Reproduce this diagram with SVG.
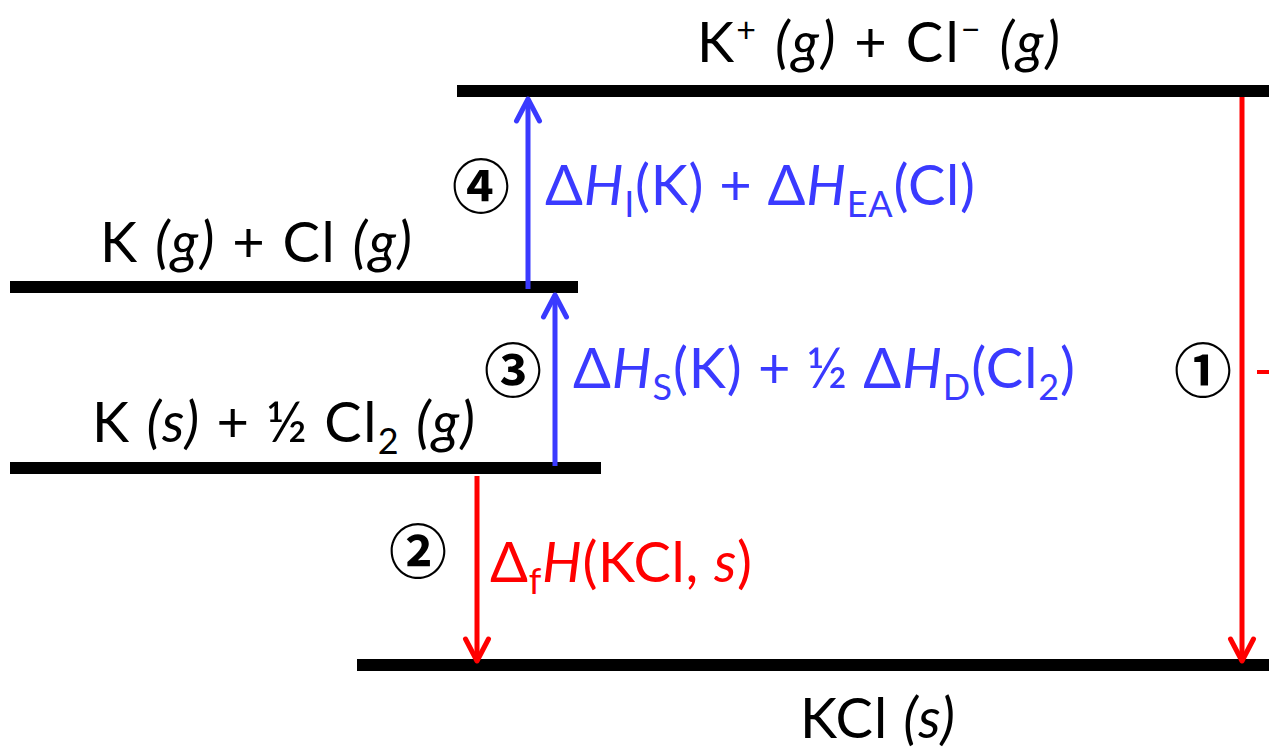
<svg xmlns="http://www.w3.org/2000/svg" width="1269" height="749" viewBox="0 0 1269 749">
<style>
  text { font-family: Lato, "Open Sans", "Noto Sans", sans-serif; font-size: 56px; fill: #000; }
  .it { font-style: italic; }
  .sub { font-size: 36px; }
  .sup { font-size: 34px; }
  .blue { fill: #3a3aff; }
  .red { fill: #ff0000; }
  .num { font-family: "Noto Sans CJK JP", "DejaVu Sans", sans-serif; font-size: 58px; font-weight: bold; text-anchor: middle; }
  .level { stroke: #000; stroke-width: 12; fill: none; }
  .ab { stroke: #3a3aff; stroke-width: 5; fill: none; }
  .ar { stroke: #ff0000; stroke-width: 5; fill: none; }
</style>
<defs>
  <marker id="hb" markerUnits="userSpaceOnUse" orient="auto" markerWidth="40" markerHeight="40" viewBox="-30 -20 40 40" refX="0" refY="0" overflow="visible">
    <path d="M-22,-11.5 L0,0 L-22,11.5" fill="none" stroke="#3a3aff" stroke-width="5" stroke-linecap="round" stroke-linejoin="round"/>
  </marker>
  <marker id="hr" markerUnits="userSpaceOnUse" orient="auto" markerWidth="40" markerHeight="40" viewBox="-30 -20 40 40" refX="0" refY="0" overflow="visible">
    <path d="M-22,-11.5 L0,0 L-22,11.5" fill="none" stroke="#ff0000" stroke-width="5" stroke-linecap="round" stroke-linejoin="round"/>
  </marker>
</defs>

<g id="level-ions">
  <line class="level" x1="457" y1="91" x2="1269" y2="91"/>
  <text x="697" y="62" textLength="363" lengthAdjust="spacing">K<tspan class="sup" dy="-20">+</tspan><tspan dy="20"> </tspan><tspan class="it">(g)</tspan> + Cl<tspan class="sup" dy="-20">−</tspan><tspan dy="20"> </tspan><tspan class="it">(g)</tspan></text>
</g>
<g id="level-atoms">
  <line class="level" x1="10" y1="287" x2="578" y2="287"/>
  <text x="100" y="262" textLength="312" lengthAdjust="spacing">K <tspan class="it">(g)</tspan> + Cl <tspan class="it">(g)</tspan></text>
</g>
<g id="level-elements">
  <line class="level" x1="10" y1="468" x2="601" y2="468"/>
  <text x="92" y="442" textLength="383" lengthAdjust="spacing">K <tspan class="it">(s)</tspan> + ½ Cl<tspan class="sub" dy="12">2</tspan><tspan dy="-12"> </tspan><tspan class="it">(g)</tspan></text>
</g>
<g id="level-kcl">
  <line class="level" x1="357" y1="665" x2="1269" y2="665"/>
  <text x="800" y="738" textLength="155" lengthAdjust="spacing">KCl <tspan class="it">(s)</tspan></text>
</g>

<g id="connectors">
  <line class="ab" x1="528" y1="289" x2="528" y2="99" marker-end="url(#hb)"/>
  <line class="ab" x1="555" y1="466" x2="555" y2="295" marker-end="url(#hb)"/>
  <line class="ar" x1="477" y1="476" x2="477" y2="661" marker-end="url(#hr)"/>
  <line class="ar" x1="1242" y1="97" x2="1242" y2="661" marker-end="url(#hr)"/>
  <line x1="1257" y1="372" x2="1269" y2="372" stroke="#ff0000" stroke-width="4"/>
</g>

<g id="step4">
  <text class="num" x="481" y="208">④</text>
  <text class="blue" x="545" y="205" textLength="430" lengthAdjust="spacing">Δ<tspan class="it">H</tspan><tspan class="sub" dy="12">I</tspan><tspan dy="-12">(K) + Δ</tspan><tspan class="it">H</tspan><tspan class="sub" dy="12">EA</tspan><tspan dy="-12">(Cl)</tspan></text>
</g>
<g id="step3">
  <text class="num" x="513" y="392">③</text>
  <text class="blue" x="573" y="388" textLength="502" lengthAdjust="spacing">Δ<tspan class="it">H</tspan><tspan class="sub" dy="12">S</tspan><tspan dy="-12">(K) + ½ Δ</tspan><tspan class="it">H</tspan><tspan class="sub" dy="12">D</tspan><tspan dy="-12">(Cl</tspan><tspan class="sub" dy="12">2</tspan><tspan dy="-12">)</tspan></text>
</g>
<g id="step2">
  <text class="num" x="418" y="573">②</text>
  <text class="red" x="490" y="582" textLength="262" lengthAdjust="spacing">Δ<tspan class="sub" dy="12">f</tspan><tspan class="it" dy="-12">H</tspan>(KCl, <tspan class="it">s</tspan>)</text>
</g>
<g id="step1">
  <text class="num" x="1203" y="392">①</text>
</g>
</svg>
